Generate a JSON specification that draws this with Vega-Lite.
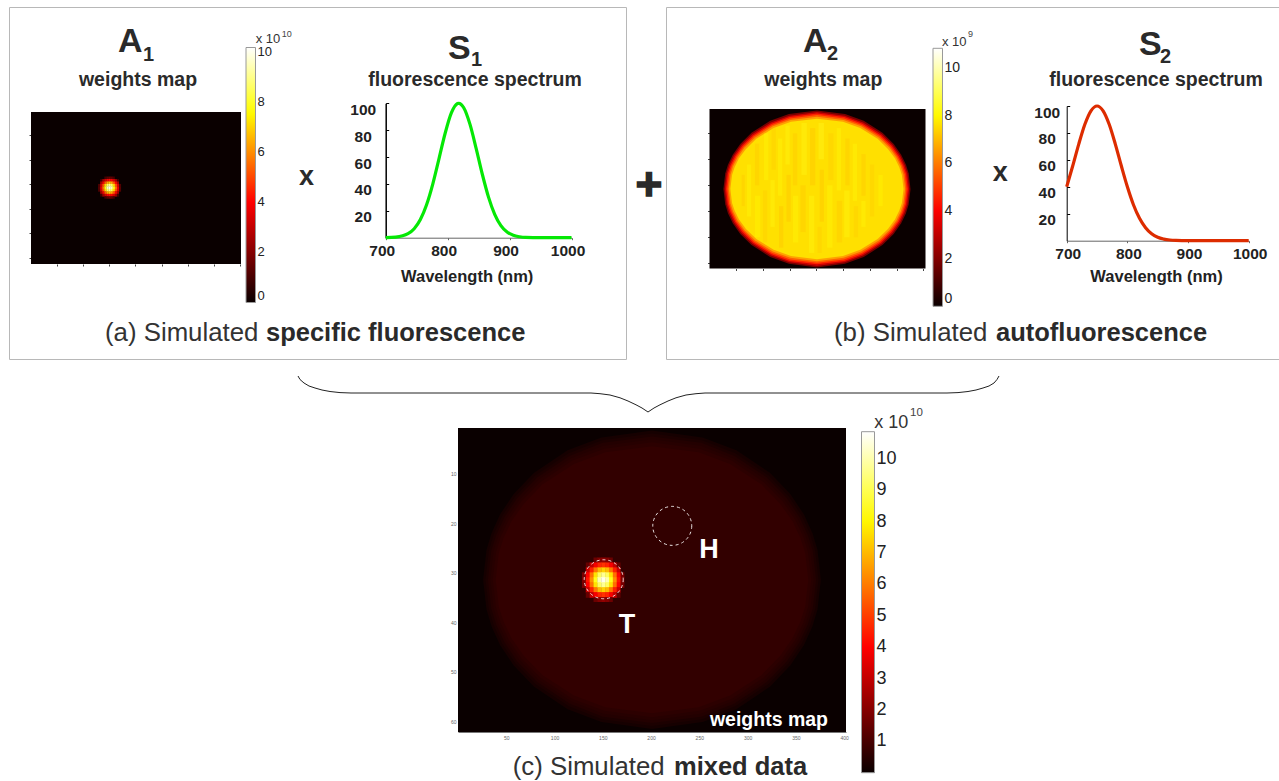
{"$schema":"https://vega.github.io/schema/vega-lite/v6.json","width":1279,"height":781,"padding":0,"autosize":{"type":"none"},"background":"white","config":{"font":"Liberation Sans","view":{"stroke":null},"axis":{"grid":false},"legend":{"padding":0}},
"datasets":{
"rings":[
{"x":26,"y":31.4,"y2":31.4,"b":1.8,"c":0.2},{"x":29.5,"y":25.4,"y2":37.4,"b":1.8,"c":0.2},{"x":34.7,"y":22,"y2":40.8,"b":1.8,"c":0.2},{"x":43.5,"y":18.2,"y2":44.6,"b":1.8,"c":0.2},{"x":57.5,"y":14.1,"y2":48.7,"b":1.8,"c":0.2},{"x":78.5,"y":9.8,"y2":53,"b":1.8,"c":0.2},{"x":113.5,"y":5.2,"y2":57.6,"b":1.8,"c":0.2},{"x":148.5,"y":2.6,"y2":60.2,"b":1.8,"c":0.2},{"x":201,"y":1.2,"y2":61.6,"b":1.8,"c":0.2},{"x":253.5,"y":2.6,"y2":60.2,"b":1.8,"c":0.2},{"x":288.5,"y":5.2,"y2":57.6,"b":1.8,"c":0.2},{"x":323.5,"y":9.8,"y2":53,"b":1.8,"c":0.2},{"x":344.5,"y":14.1,"y2":48.7,"b":1.8,"c":0.2},{"x":358.5,"y":18.2,"y2":44.6,"b":1.8,"c":0.2},{"x":367.3,"y":22,"y2":40.8,"b":1.8,"c":0.2},{"x":372.5,"y":25.4,"y2":37.4,"b":1.8,"c":0.2},{"x":376,"y":31.4,"y2":31.4,"b":1.8,"c":0.2},
{"x":28.5,"y":31.4,"y2":31.4,"b":3.2,"c":0.3},{"x":32,"y":25.5,"y2":37.3,"b":3.2,"c":0.3},{"x":37.1,"y":22.2,"y2":40.6,"b":3.2,"c":0.3},{"x":45.7,"y":18.5,"y2":44.3,"b":3.2,"c":0.3},{"x":59.5,"y":14.5,"y2":48.3,"b":3.2,"c":0.3},{"x":80.2,"y":10.3,"y2":52.5,"b":3.2,"c":0.3},{"x":114.7,"y":5.8,"y2":57,"b":3.2,"c":0.3},{"x":149.2,"y":3.2,"y2":59.6,"b":3.2,"c":0.3},{"x":201,"y":1.8,"y2":61,"b":3.2,"c":0.3},{"x":252.8,"y":3.2,"y2":59.6,"b":3.2,"c":0.3},{"x":287.3,"y":5.8,"y2":57,"b":3.2,"c":0.3},{"x":321.8,"y":10.3,"y2":52.5,"b":3.2,"c":0.3},{"x":342.5,"y":14.5,"y2":48.3,"b":3.2,"c":0.3},{"x":356.3,"y":18.5,"y2":44.3,"b":3.2,"c":0.3},{"x":364.9,"y":22.2,"y2":40.6,"b":3.2,"c":0.3},{"x":370,"y":25.5,"y2":37.3,"b":3.2,"c":0.3},{"x":373.5,"y":31.4,"y2":31.4,"b":3.2,"c":0.3},
{"x":31,"y":31.4,"y2":31.4,"b":4.6,"c":0.4},{"x":34.4,"y":25.6,"y2":37.2,"b":4.6,"c":0.4},{"x":39.5,"y":22.4,"y2":40.4,"b":4.6,"c":0.4},{"x":48,"y":18.8,"y2":44,"b":4.6,"c":0.4},{"x":61.6,"y":14.8,"y2":48,"b":4.6,"c":0.4},{"x":82,"y":10.7,"y2":52.1,"b":4.6,"c":0.4},{"x":116,"y":6.3,"y2":56.5,"b":4.6,"c":0.4},{"x":150,"y":3.7,"y2":59.1,"b":4.6,"c":0.4},{"x":201,"y":2.4,"y2":60.4,"b":4.6,"c":0.4},{"x":252,"y":3.7,"y2":59.1,"b":4.6,"c":0.4},{"x":286,"y":6.3,"y2":56.5,"b":4.6,"c":0.4},{"x":320,"y":10.7,"y2":52.1,"b":4.6,"c":0.4},{"x":340.4,"y":14.8,"y2":48,"b":4.6,"c":0.4},{"x":354,"y":18.8,"y2":44,"b":4.6,"c":0.4},{"x":362.5,"y":22.4,"y2":40.4,"b":4.6,"c":0.4},{"x":367.6,"y":25.6,"y2":37.2,"b":4.6,"c":0.4},{"x":371,"y":31.4,"y2":31.4,"b":4.6,"c":0.4},
{"x":33.5,"y":31.4,"y2":31.4,"b":5.6,"c":0.48},{"x":36.8,"y":25.7,"y2":37.1,"b":5.6,"c":0.48},{"x":41.9,"y":22.5,"y2":40.3,"b":5.6,"c":0.48},{"x":50.2,"y":19,"y2":43.8,"b":5.6,"c":0.48},{"x":63.6,"y":15.2,"y2":47.6,"b":5.6,"c":0.48},{"x":83.7,"y":11.1,"y2":51.7,"b":5.6,"c":0.48},{"x":117.2,"y":6.8,"y2":56,"b":5.6,"c":0.48},{"x":150.7,"y":4.3,"y2":58.5,"b":5.6,"c":0.48},{"x":201,"y":3,"y2":59.8,"b":5.6,"c":0.48},{"x":251.3,"y":4.3,"y2":58.5,"b":5.6,"c":0.48},{"x":284.8,"y":6.8,"y2":56,"b":5.6,"c":0.48},{"x":318.3,"y":11.1,"y2":51.7,"b":5.6,"c":0.48},{"x":338.4,"y":15.2,"y2":47.6,"b":5.6,"c":0.48},{"x":351.8,"y":19,"y2":43.8,"b":5.6,"c":0.48},{"x":360.1,"y":22.5,"y2":40.3,"b":5.6,"c":0.48},{"x":365.2,"y":25.7,"y2":37.1,"b":5.6,"c":0.48},{"x":368.5,"y":31.4,"y2":31.4,"b":5.6,"c":0.48},
{"x":36,"y":31.4,"y2":31.4,"b":6.6,"c":0.56},{"x":39.3,"y":25.9,"y2":36.9,"b":6.6,"c":0.56},{"x":44.2,"y":22.7,"y2":40.1,"b":6.6,"c":0.56},{"x":52.5,"y":19.3,"y2":43.5,"b":6.6,"c":0.56},{"x":65.7,"y":15.5,"y2":47.3,"b":6.6,"c":0.56},{"x":85.5,"y":11.6,"y2":51.2,"b":6.6,"c":0.56},{"x":118.5,"y":7.3,"y2":55.5,"b":6.6,"c":0.56},{"x":151.5,"y":4.9,"y2":57.9,"b":6.6,"c":0.56},{"x":201,"y":3.6,"y2":59.2,"b":6.6,"c":0.56},{"x":250.5,"y":4.9,"y2":57.9,"b":6.6,"c":0.56},{"x":283.5,"y":7.3,"y2":55.5,"b":6.6,"c":0.56},{"x":316.5,"y":11.6,"y2":51.2,"b":6.6,"c":0.56},{"x":336.3,"y":15.5,"y2":47.3,"b":6.6,"c":0.56},{"x":349.5,"y":19.3,"y2":43.5,"b":6.6,"c":0.56},{"x":357.8,"y":22.7,"y2":40.1,"b":6.6,"c":0.56},{"x":362.7,"y":25.9,"y2":36.9,"b":6.6,"c":0.56},{"x":366,"y":31.4,"y2":31.4,"b":6.6,"c":0.56},
{"x":39,"y":31.4,"y2":31.4,"b":7.6,"c":0.65},{"x":42.2,"y":26,"y2":36.8,"b":7.6,"c":0.65},{"x":47.1,"y":23,"y2":39.8,"b":7.6,"c":0.65},{"x":55.2,"y":19.6,"y2":43.2,"b":7.6,"c":0.65},{"x":68.2,"y":16,"y2":46.8,"b":7.6,"c":0.65},{"x":87.6,"y":12.1,"y2":50.7,"b":7.6,"c":0.65},{"x":120,"y":8,"y2":54.8,"b":7.6,"c":0.65},{"x":152.4,"y":5.6,"y2":57.2,"b":7.6,"c":0.65},{"x":201,"y":4.4,"y2":58.4,"b":7.6,"c":0.65},{"x":249.6,"y":5.6,"y2":57.2,"b":7.6,"c":0.65},{"x":282,"y":8,"y2":54.8,"b":7.6,"c":0.65},{"x":314.4,"y":12.1,"y2":50.7,"b":7.6,"c":0.65},{"x":333.8,"y":16,"y2":46.8,"b":7.6,"c":0.65},{"x":346.8,"y":19.6,"y2":43.2,"b":7.6,"c":0.65},{"x":354.9,"y":23,"y2":39.8,"b":7.6,"c":0.65},{"x":359.8,"y":26,"y2":36.8,"b":7.6,"c":0.65},{"x":363,"y":31.4,"y2":31.4,"b":7.6,"c":0.65}
],
"streaks":[
{"x":70,"x2":78,"y":22,"y2":42,"v":8.2},{"x":85,"x2":93,"y":14,"y2":30,"v":7.1},{"x":85,"x2":95,"y":34,"y2":50,"v":8.1},{"x":102,"x2":110,"y":10,"y2":28,"v":8.2},{"x":100,"x2":108,"y":32,"y2":52,"v":7.2},{"x":116,"x2":124,"y":8,"y2":24,"v":7.2},{"x":114,"x2":122,"y":28,"y2":46,"v":8.3},{"x":128,"x2":136,"y":12,"y2":34,"v":8.2},{"x":130,"x2":138,"y":38,"y2":54,"v":7},{"x":142,"x2":150,"y":7,"y2":22,"v":8.3},{"x":144,"x2":152,"y":26,"y2":44,"v":7},{"x":156,"x2":164,"y":10,"y2":30,"v":7.1},{"x":156,"x2":166,"y":34,"y2":52,"v":8.2},{"x":172,"x2":182,"y":6,"y2":26,"v":8.4},{"x":170,"x2":180,"y":30,"y2":48,"v":7.1},{"x":188,"x2":198,"y":8,"y2":30,"v":7},{"x":186,"x2":196,"y":34,"y2":56,"v":8.3},{"x":204,"x2":214,"y":6,"y2":20,"v":8.5},{"x":206,"x2":214,"y":24,"y2":44,"v":7},{"x":202,"x2":210,"y":46,"y2":56,"v":7.2},{"x":222,"x2":232,"y":10,"y2":28,"v":7.2},{"x":220,"x2":230,"y":30,"y2":54,"v":8.2},{"x":238,"x2":246,"y":8,"y2":32,"v":8.2},{"x":238,"x2":248,"y":36,"y2":52,"v":7.1},{"x":254,"x2":262,"y":12,"y2":30,"v":7.1},{"x":252,"x2":262,"y":32,"y2":50,"v":8.3},{"x":268,"x2":276,"y":14,"y2":36,"v":8.2},{"x":270,"x2":278,"y":38,"y2":50,"v":7.2},{"x":284,"x2":292,"y":18,"y2":34,"v":7.1},{"x":284,"x2":292,"y":36,"y2":46,"v":8.2},{"x":300,"x2":308,"y":22,"y2":42,"v":7.2},{"x":316,"x2":324,"y":26,"y2":38,"v":8.1},{"x":60,"x2":66,"y":26,"y2":38,"v":7.1}
],
"blob":[
{"x":140.4,"x2":144.8,"y":26.9,"y2":28.05,"a":0.95,"c":1.6},{"x":144.4,"x2":148.8,"y":26.9,"y2":28.05,"a":1.35,"c":2},{"x":148.4,"x2":152.8,"y":26.9,"y2":28.05,"a":1.55,"c":2.2},{"x":152.4,"x2":156.8,"y":26.9,"y2":28.05,"a":1.35,"c":2},{"x":156.4,"x2":160.4,"y":26.9,"y2":28.05,"a":0.95,"c":1.6},
{"x":132.4,"x2":136.8,"y":27.9,"y2":29.05,"a":0.85,"c":1.5},{"x":136.4,"x2":140.8,"y":27.9,"y2":29.05,"a":2.35,"c":3},{"x":140.4,"x2":144.8,"y":27.9,"y2":29.05,"a":3.22,"c":3.87},{"x":144.4,"x2":148.8,"y":27.9,"y2":29.05,"a":3.89,"c":4.54},{"x":148.4,"x2":152.8,"y":27.9,"y2":29.05,"a":4.14,"c":4.79},{"x":152.4,"x2":156.8,"y":27.9,"y2":29.05,"a":3.89,"c":4.54},{"x":156.4,"x2":160.8,"y":27.9,"y2":29.05,"a":3.22,"c":3.87},{"x":160.4,"x2":164.8,"y":27.9,"y2":29.05,"a":2.35,"c":3},{"x":164.4,"x2":168.4,"y":27.9,"y2":29.05,"a":0.85,"c":1.5},
{"x":132.4,"x2":136.8,"y":28.9,"y2":30.05,"a":2.47,"c":3.12},{"x":136.4,"x2":140.8,"y":28.9,"y2":30.05,"a":3.84,"c":4.49},{"x":140.4,"x2":144.8,"y":28.9,"y2":30.05,"a":5.26,"c":5.91},{"x":144.4,"x2":148.8,"y":28.9,"y2":30.05,"a":6.35,"c":7},{"x":148.4,"x2":152.8,"y":28.9,"y2":30.05,"a":6.76,"c":7.41},{"x":152.4,"x2":156.8,"y":28.9,"y2":30.05,"a":6.35,"c":7},{"x":156.4,"x2":160.8,"y":28.9,"y2":30.05,"a":5.26,"c":5.91},{"x":160.4,"x2":164.8,"y":28.9,"y2":30.05,"a":3.84,"c":4.49},{"x":164.4,"x2":168.4,"y":28.9,"y2":30.05,"a":2.47,"c":3.12},
{"x":128.4,"x2":132.8,"y":29.9,"y2":31.05,"a":1.15,"c":1.8},{"x":132.4,"x2":136.8,"y":29.9,"y2":31.05,"a":3.32,"c":3.97},{"x":136.4,"x2":140.8,"y":29.9,"y2":31.05,"a":5.15,"c":5.8},{"x":140.4,"x2":144.8,"y":29.9,"y2":31.05,"a":7.06,"c":7.71},{"x":144.4,"x2":148.8,"y":29.9,"y2":31.05,"a":8.52,"c":9.17},{"x":148.4,"x2":152.8,"y":29.9,"y2":31.05,"a":9.07,"c":9.72},{"x":152.4,"x2":156.8,"y":29.9,"y2":31.05,"a":8.52,"c":9.17},{"x":156.4,"x2":160.8,"y":29.9,"y2":31.05,"a":7.06,"c":7.71},{"x":160.4,"x2":164.8,"y":29.9,"y2":31.05,"a":5.15,"c":5.8},{"x":164.4,"x2":168.8,"y":29.9,"y2":31.05,"a":3.32,"c":3.97},{"x":168.4,"x2":172.4,"y":29.9,"y2":31.05,"a":1.15,"c":1.8},
{"x":128.4,"x2":132.8,"y":30.9,"y2":32.05,"a":1.25,"c":1.9},{"x":132.4,"x2":136.8,"y":30.9,"y2":32.05,"a":3.66,"c":4.31},{"x":136.4,"x2":140.8,"y":30.9,"y2":32.05,"a":5.68,"c":6.33},{"x":140.4,"x2":144.8,"y":30.9,"y2":32.05,"a":7.78,"c":8.43},{"x":144.4,"x2":148.8,"y":30.9,"y2":32.05,"a":9.39,"c":10.04},{"x":148.4,"x2":152.8,"y":30.9,"y2":32.05,"a":10,"c":10.65},{"x":152.4,"x2":156.8,"y":30.9,"y2":32.05,"a":9.39,"c":10.04},{"x":156.4,"x2":160.8,"y":30.9,"y2":32.05,"a":7.78,"c":8.43},{"x":160.4,"x2":164.8,"y":30.9,"y2":32.05,"a":5.68,"c":6.33},{"x":164.4,"x2":168.8,"y":30.9,"y2":32.05,"a":3.66,"c":4.31},{"x":168.4,"x2":172.4,"y":30.9,"y2":32.05,"a":1.25,"c":1.9},
{"x":128.4,"x2":132.8,"y":31.9,"y2":33.05,"a":1.15,"c":1.8},{"x":132.4,"x2":136.8,"y":31.9,"y2":33.05,"a":3.32,"c":3.97},{"x":136.4,"x2":140.8,"y":31.9,"y2":33.05,"a":5.15,"c":5.8},{"x":140.4,"x2":144.8,"y":31.9,"y2":33.05,"a":7.06,"c":7.71},{"x":144.4,"x2":148.8,"y":31.9,"y2":33.05,"a":8.52,"c":9.17},{"x":148.4,"x2":152.8,"y":31.9,"y2":33.05,"a":9.07,"c":9.72},{"x":152.4,"x2":156.8,"y":31.9,"y2":33.05,"a":8.52,"c":9.17},{"x":156.4,"x2":160.8,"y":31.9,"y2":33.05,"a":7.06,"c":7.71},{"x":160.4,"x2":164.8,"y":31.9,"y2":33.05,"a":5.15,"c":5.8},{"x":164.4,"x2":168.8,"y":31.9,"y2":33.05,"a":3.32,"c":3.97},{"x":168.4,"x2":172.4,"y":31.9,"y2":33.05,"a":1.15,"c":1.8},
{"x":132.4,"x2":136.8,"y":32.9,"y2":34.05,"a":2.47,"c":3.12},{"x":136.4,"x2":140.8,"y":32.9,"y2":34.05,"a":3.84,"c":4.49},{"x":140.4,"x2":144.8,"y":32.9,"y2":34.05,"a":5.26,"c":5.91},{"x":144.4,"x2":148.8,"y":32.9,"y2":34.05,"a":6.35,"c":7},{"x":148.4,"x2":152.8,"y":32.9,"y2":34.05,"a":6.76,"c":7.41},{"x":152.4,"x2":156.8,"y":32.9,"y2":34.05,"a":6.35,"c":7},{"x":156.4,"x2":160.8,"y":32.9,"y2":34.05,"a":5.26,"c":5.91},{"x":160.4,"x2":164.8,"y":32.9,"y2":34.05,"a":3.84,"c":4.49},{"x":164.4,"x2":168.4,"y":32.9,"y2":34.05,"a":2.47,"c":3.12},
{"x":132.4,"x2":136.8,"y":33.9,"y2":35.05,"a":0.85,"c":1.5},{"x":136.4,"x2":140.8,"y":33.9,"y2":35.05,"a":2.35,"c":3},{"x":140.4,"x2":144.8,"y":33.9,"y2":35.05,"a":3.22,"c":3.87},{"x":144.4,"x2":148.8,"y":33.9,"y2":35.05,"a":3.89,"c":4.54},{"x":148.4,"x2":152.8,"y":33.9,"y2":35.05,"a":4.14,"c":4.79},{"x":152.4,"x2":156.8,"y":33.9,"y2":35.05,"a":3.89,"c":4.54},{"x":156.4,"x2":160.8,"y":33.9,"y2":35.05,"a":3.22,"c":3.87},{"x":160.4,"x2":164.8,"y":33.9,"y2":35.05,"a":2.35,"c":3},{"x":164.4,"x2":168.4,"y":33.9,"y2":35.05,"a":0.85,"c":1.5},
{"x":140.4,"x2":144.8,"y":34.9,"y2":35.9,"a":0.95,"c":1.6},{"x":144.4,"x2":148.8,"y":34.9,"y2":35.9,"a":1.35,"c":2},{"x":148.4,"x2":152.8,"y":34.9,"y2":35.9,"a":1.55,"c":2.2},{"x":152.4,"x2":156.8,"y":34.9,"y2":35.9,"a":1.35,"c":2},{"x":156.4,"x2":160.4,"y":34.9,"y2":35.9,"a":0.95,"c":1.6}
]
},
"layer":[
{"data":{"values":[{"x":9.5,"x2":626.5,"y":7.5,"y2":359.5},{"x":666.5,"x2":1285,"y":7.5,"y2":359.5}]},"mark":{"type":"rect","fillOpacity":0,"stroke":"#b8b8b8","strokeWidth":1},"encoding":{"x":{"field":"x","type":"quantitative","axis":null,"scale":{"domain":[0,1279],"range":[0,1279]}},"x2":{"field":"x2"},"y":{"field":"y","type":"quantitative","axis":null,"scale":{"domain":[0,781],"range":[0,781]}},"y2":{"field":"y2"}}},

{"data":{"values":[{"x":0,"x2":402,"y":0.7,"y2":62.4,"v":0}]},"mark":"rect","encoding":{"x":{"field":"x","type":"quantitative","scale":{"domain":[0,402],"range":[31,241]},"axis":{"orient":"bottom","offset":-517,"values":[50,100,150,200,250,300,350,400],"labels":false,"domain":false,"tickSize":2,"tickColor":"#444","title":null}},"x2":{"field":"x2"},"y":{"field":"y","type":"quantitative","scale":{"domain":[0.7,62.4],"range":[112,264]},"axis":{"orient":"left","offset":-31,"values":[10,20,30,40,50,60],"labels":false,"domain":false,"tickSize":2,"tickColor":"#444","title":null}},"y2":{"field":"y2"},"color":{"field":"v","type":"quantitative","scale":{"domain":[0,4,7.6,10.16],"range":["#0a0000","#ff0000","#ffff00","#ffffff"],"interpolate":"rgb"},"legend":{"orient":"none","legendX":246,"legendY":47.5,"direction":"vertical","title":null,"gradientLength":255,"gradientThickness":9.5,"gradientStrokeColor":"#999","gradientStrokeWidth":1,"values":[0,2,4,6,8,10],"labelFontSize":13,"labelOffset":2,"labelColor":"#222","labelOverlap":false}}}},
{"data":{"name":"blob"},"mark":"rect","encoding":{"x":{"field":"x","type":"quantitative","axis":null,"scale":{"domain":[0,402],"range":[31,241]}},"x2":{"field":"x2"},"y":{"field":"y","type":"quantitative","axis":null,"scale":{"domain":[0.7,62.4],"range":[112,264]}},"y2":{"field":"y2"},"color":{"field":"a","type":"quantitative","legend":null,"scale":{"domain":[0,4,7.6,10.16],"range":["#0a0000","#ff0000","#ffff00","#ffffff"],"interpolate":"rgb"}}}},
{"data":{"values":[{"k":0}]},"mark":{"type":"point","opacity":0},"encoding":{"y":{"field":"k","type":"quantitative","scale":{"domain":[0,10.16],"range":[302.5,47.5]},"axis":{"orient":"right","offset":-1023.5,"values":[2,4,6,8,10],"labels":false,"domain":false,"tickSize":-2,"tickColor":"#555","title":null}}}},

{"data":{"values":[{"w":700,"i":0},{"w":716,"i":0.45},{"w":736,"i":3},{"w":746,"i":6.7},{"w":756,"i":13.5},{"w":766,"i":24.5},{"w":776,"i":39.9},{"w":786,"i":58.7},{"w":796,"i":77.7},{"w":806,"i":92.8},{"w":816,"i":99.8},{"w":818,"i":100},{"w":826,"i":96.7},{"w":836,"i":84.5},{"w":846,"i":66.5},{"w":856,"i":47.2},{"w":866,"i":30.2},{"w":876,"i":17.4},{"w":886,"i":9},{"w":896,"i":4.2},{"w":906,"i":1.8},{"w":916,"i":0.7},{"w":926,"i":0.2},{"w":950,"i":0},{"w":1000,"i":0}]},"mark":{"type":"line","color":"#05e805","strokeWidth":3.2,"interpolate":"monotone"},"encoding":{"x":{"field":"w","type":"quantitative","scale":{"domain":[700,1000],"range":[385.7,571.5],"zero":false,"nice":false},"axis":{"orient":"bottom","offset":-543.3,"values":[700,800,900,1000],"format":"d","labelFlush":false,"domainColor":"#666","tickColor":"#666","tickSize":2,"labelFontSize":15.5,"labelFontWeight":"bold","labelColor":"#222","labelOffset":-4,"labelPadding":4,"title":"Wavelength (nm)","titleFontSize":16.5,"titleFontWeight":"bold","titleColor":"#222","titleX":466.7,"titleY":44,"titleBaseline":"alphabetic"}},"y":{"field":"i","type":"quantitative","scale":{"domain":[0,100],"range":[237.7,103.3]},"axis":{"orient":"left","offset":-385.7,"values":[20,40,60,80,100],"domainColor":"#000","domainWidth":1.5,"tickColor":"#000","tickSize":-3,"labelFontSize":15.5,"labelFontWeight":"bold","labelColor":"#222","labelAlign":"center","labelOffset":6,"labelPadding":26,"title":null}}}},

{"data":{"values":[{"x":0,"x2":404,"y":0.65,"y2":62,"v":0}]},"mark":"rect","encoding":{"x":{"field":"x","type":"quantitative","scale":{"domain":[0,404],"range":[709.5,925.5]},"axis":{"orient":"bottom","offset":-512.5,"values":[50,100,150,200,250,300,350,400],"labels":false,"domain":false,"tickSize":2,"tickColor":"#444","title":null}},"x2":{"field":"x2"},"y":{"field":"y","type":"quantitative","scale":{"domain":[0.65,62],"range":[109,268.5]},"axis":{"orient":"left","offset":-709.5,"values":[10,20,30,40,50,60],"labels":false,"domain":false,"tickSize":2,"tickColor":"#444","title":null}},"y2":{"field":"y2"},"color":{"field":"v","type":"quantitative","scale":{"domain":[0,4.05,8.1,10.82],"range":["#0a0000","#ff0000","#ffff00","#ffffff"],"interpolate":"rgb"},"legend":{"orient":"none","legendX":933,"legendY":48.3,"direction":"vertical","title":null,"gradientLength":258,"gradientThickness":9.5,"gradientStrokeColor":"#999","gradientStrokeWidth":1,"values":[0,2,4,6,8,10],"labelFontSize":14,"labelOffset":2,"labelColor":"#222","labelOverlap":false}}}},
{"data":{"name":"rings"},"mark":{"type":"area","interpolate":"linear"},"encoding":{"x":{"field":"x","type":"quantitative","axis":null,"scale":{"domain":[0,404],"range":[709.5,925.5]}},"y":{"field":"y","type":"quantitative","stack":null,"axis":null,"scale":{"domain":[0.65,62],"range":[109,268.5]}},"y2":{"field":"y2"},"color":{"field":"b","type":"quantitative","legend":null,"scale":{"domain":[0,4.05,8.1,10.82],"range":["#0a0000","#ff0000","#ffff00","#ffffff"],"interpolate":"rgb"}}}},
{"data":{"name":"streaks"},"mark":{"type":"rect","opacity":0.3},"encoding":{"x":{"field":"x","type":"quantitative","axis":null,"scale":{"domain":[0,404],"range":[709.5,925.5]}},"x2":{"field":"x2"},"y":{"field":"y","type":"quantitative","axis":null,"scale":{"domain":[0.65,62],"range":[109,268.5]}},"y2":{"field":"y2"},"color":{"field":"v","type":"quantitative","legend":null,"scale":{"domain":[0,4.05,8.1,10.82],"range":["#0a0000","#ff0000","#ffff00","#ffffff"],"interpolate":"rgb"}}}},
{"data":{"values":[{"k":0}]},"mark":{"type":"point","opacity":0},"encoding":{"y":{"field":"k","type":"quantitative","scale":{"domain":[0,10.82],"range":[306.3,48.3]},"axis":{"orient":"right","offset":-336.5,"values":[2,4,6,8,10],"labels":false,"domain":false,"tickSize":-2,"tickColor":"#555","title":null}}}},

{"data":{"values":[{"w":700,"i":40},{"w":710,"i":55.6},{"w":720,"i":71.9},{"w":730,"i":86.4},{"w":740,"i":96.4},{"w":750,"i":100},{"w":760,"i":96.4},{"w":770,"i":86.4},{"w":780,"i":71.9},{"w":790,"i":55.6},{"w":800,"i":40},{"w":810,"i":26.7},{"w":820,"i":16.6},{"w":830,"i":9.6},{"w":840,"i":5.1},{"w":850,"i":2.5},{"w":860,"i":1.2},{"w":870,"i":0.5},{"w":880,"i":0.2},{"w":900,"i":0},{"w":1000,"i":0}]},"mark":{"type":"line","color":"#dd2c00","strokeWidth":3.2,"interpolate":"monotone"},"encoding":{"x":{"field":"w","type":"quantitative","scale":{"domain":[700,1000],"range":[1066.7,1248.7],"zero":false,"nice":false},"axis":{"orient":"bottom","offset":-540.3,"values":[700,800,900,1000],"format":"d","labelFlush":false,"domainColor":"#666","tickColor":"#666","tickSize":2,"labelFontSize":15.5,"labelFontWeight":"bold","labelColor":"#222","labelOffset":1,"labelPadding":4,"title":"Wavelength (nm)","titleFontSize":16.5,"titleFontWeight":"bold","titleColor":"#222","titleX":1156,"titleY":41,"titleBaseline":"alphabetic"}},"y":{"field":"i","type":"quantitative","scale":{"domain":[0,100],"range":[240.7,106]},"axis":{"orient":"left","offset":-1066.7,"values":[20,40,60,80,100],"domainColor":"#000","tickColor":"#000","tickSize":-3,"labelFontSize":15.5,"labelFontWeight":"bold","labelColor":"#222","labelAlign":"center","labelOffset":6,"labelPadding":23,"title":null}}}},

{"data":{"values":[{"x":0,"x2":402,"y":0.7,"y2":62.2,"v":0}]},"mark":"rect","encoding":{"x":{"field":"x","type":"quantitative","scale":{"domain":[0,402],"range":[458,846]},"axis":{"orient":"bottom","offset":-49,"values":[50,100,150,200,250,300,350,400],"labelFlush":false,"domainColor":"#777","tickSize":0,"labelFontSize":5,"labelColor":"#666","labelPadding":3,"title":null}},"x2":{"field":"x2"},"y":{"field":"y","type":"quantitative","scale":{"domain":[0.7,62.2],"range":[428,732]},"axis":{"orient":"left","offset":-458,"values":[10,20,30,40,50,60],"domain":false,"tickSize":0,"labelFontSize":5,"labelColor":"#666","labelPadding":2,"title":null}},"y2":{"field":"y2"},"color":{"field":"v","type":"quantitative","scale":{"domain":[0,4,8.15,10.87],"range":["#0a0000","#ff0000","#ffff00","#ffffff"],"interpolate":"rgb"},"legend":{"orient":"none","legendX":861.5,"legendY":431.7,"direction":"vertical","title":null,"gradientLength":341,"gradientThickness":13,"gradientStrokeColor":"#999","gradientStrokeWidth":1,"values":[1,2,3,4,5,6,7,8,9,10],"labelFontSize":18,"labelOffset":2,"labelColor":"#222","labelOverlap":false}}}},
{"data":{"name":"rings"},"mark":{"type":"area","interpolate":"linear"},"encoding":{"x":{"field":"x","type":"quantitative","axis":null,"scale":{"domain":[0,402],"range":[458,846]}},"y":{"field":"y","type":"quantitative","stack":null,"axis":null,"scale":{"domain":[0.7,62.2],"range":[428,732]}},"y2":{"field":"y2"},"color":{"field":"c","type":"quantitative","legend":null,"scale":{"domain":[0,4,8.15,10.87],"range":["#0a0000","#ff0000","#ffff00","#ffffff"],"interpolate":"rgb"}}}},
{"data":{"name":"blob"},"mark":"rect","encoding":{"x":{"field":"x","type":"quantitative","axis":null,"scale":{"domain":[0,402],"range":[458,846]}},"x2":{"field":"x2"},"y":{"field":"y","type":"quantitative","axis":null,"scale":{"domain":[0.7,62.2],"range":[428,732]}},"y2":{"field":"y2"},"color":{"field":"c","type":"quantitative","legend":null,"scale":{"domain":[0,4,8.15,10.87],"range":["#0a0000","#ff0000","#ffff00","#ffffff"],"interpolate":"rgb"}}}},
{"data":{"values":[{"x":151,"y":31.3},{"x":222,"y":20.5}]},"mark":{"type":"point","shape":"circle","size":1520,"filled":false,"stroke":"#ffffff","strokeDash":[3,3],"strokeWidth":1,"opacity":0.9},"encoding":{"x":{"field":"x","type":"quantitative","axis":null,"scale":{"domain":[0,402],"range":[458,846]}},"y":{"field":"y","type":"quantitative","axis":null,"scale":{"domain":[0.7,62.2],"range":[428,732]}}}},
{"data":{"values":[{"x":175,"y":42.1,"t":"T"},{"x":260,"y":27,"t":"H"}]},"mark":{"type":"text","fontSize":27,"fontWeight":"bold","color":"#ffffff","align":"center","baseline":"alphabetic"},"encoding":{"x":{"field":"x","type":"quantitative","axis":null,"scale":{"domain":[0,402],"range":[458,846]}},"y":{"field":"y","type":"quantitative","axis":null,"scale":{"domain":[0.7,62.2],"range":[428,732]}},"text":{"field":"t"}}},
{"data":{"values":[{"x":261,"y":61.05,"t":"weights map"}]},"mark":{"type":"text","fontSize":19.5,"fontWeight":"bold","color":"#ffffff","align":"left","baseline":"alphabetic"},"encoding":{"x":{"field":"x","type":"quantitative","axis":null,"scale":{"domain":[0,402],"range":[458,846]}},"y":{"field":"y","type":"quantitative","axis":null,"scale":{"domain":[0.7,62.2],"range":[428,732]}},"text":{"field":"t"}}},
{"data":{"values":[{"k":0}]},"mark":{"type":"point","opacity":0},"encoding":{"y":{"field":"k","type":"quantitative","scale":{"domain":[0,10.87],"range":[772.7,431.7]},"axis":{"orient":"right","offset":-404.5,"values":[1,2,3,4,5,6,7,8,9,10],"labels":false,"domain":false,"tickSize":-2,"tickColor":"#555","title":null}}}},

{"data":{"values":[{"x":298,"y":376},{"x":300,"y":379.5},{"x":304,"y":383},{"x":309,"y":386},{"x":315,"y":388},{"x":322,"y":390},{"x":330,"y":391.5},{"x":340,"y":392.6},{"x":351,"y":393},{"x":591,"y":393},{"x":600,"y":393.7},{"x":610,"y":395},{"x":620,"y":397.8},{"x":628,"y":401},{"x":636,"y":404.8},{"x":642,"y":408},{"x":648,"y":412},{"x":654,"y":408},{"x":660,"y":404.8},{"x":668,"y":401},{"x":676,"y":397.8},{"x":686,"y":395},{"x":696,"y":393.7},{"x":705,"y":393},{"x":947,"y":393},{"x":958,"y":392.6},{"x":968,"y":391.5},{"x":976,"y":390},{"x":983,"y":388},{"x":989,"y":386},{"x":994,"y":383},{"x":997,"y":379.5},{"x":999,"y":376}]},"mark":{"type":"line","color":"#222","strokeWidth":1},"encoding":{"x":{"field":"x","type":"quantitative","axis":null,"scale":{"domain":[0,1279],"range":[0,1279]}},"y":{"field":"y","type":"quantitative","axis":null,"scale":{"domain":[0,781],"range":[0,781]}}}},

{"data":{"values":[{"x":118,"y":52,"t":"A"},{"x":448,"y":59,"t":"S"},{"x":803,"y":52,"t":"A"},{"x":1139,"y":55,"t":"S"}]},"mark":{"type":"text","fontSize":34,"fontWeight":"bold","color":"#2a2a2a","align":"left","baseline":"alphabetic"},"encoding":{"x":{"field":"x","type":"quantitative","axis":null,"scale":{"domain":[0,1279],"range":[0,1279]}},"y":{"field":"y","type":"quantitative","axis":null,"scale":{"domain":[0,781],"range":[0,781]}},"text":{"field":"t"}}},
{"data":{"values":[{"x":143,"y":61,"t":"1"},{"x":471,"y":65.5,"t":"1"},{"x":827,"y":60,"t":"2"},{"x":1160,"y":62.7,"t":"2"}]},"mark":{"type":"text","fontSize":20,"fontWeight":"bold","color":"#2a2a2a","align":"left","baseline":"alphabetic"},"encoding":{"x":{"field":"x","type":"quantitative","axis":null,"scale":{"domain":[0,1279],"range":[0,1279]}},"y":{"field":"y","type":"quantitative","axis":null,"scale":{"domain":[0,781],"range":[0,781]}},"text":{"field":"t"}}},
{"data":{"values":[{"x":138,"y":85.5,"t":"weights map"},{"x":475,"y":85.7,"t":"fluorescence spectrum"},{"x":823.3,"y":85.5,"t":"weights map"},{"x":1156,"y":85.7,"t":"fluorescence spectrum"}]},"mark":{"type":"text","fontSize":19.5,"fontWeight":"bold","color":"#2a2a2a","align":"center","baseline":"alphabetic"},"encoding":{"x":{"field":"x","type":"quantitative","axis":null,"scale":{"domain":[0,1279],"range":[0,1279]}},"y":{"field":"y","type":"quantitative","axis":null,"scale":{"domain":[0,781],"range":[0,781]}},"text":{"field":"t"}}},
{"data":{"values":[{"x":299,"y":185,"t":"x"},{"x":992.7,"y":181,"t":"x"}]},"mark":{"type":"text","fontSize":27,"fontWeight":"bold","color":"#2a2a2a","align":"left","baseline":"alphabetic"},"encoding":{"x":{"field":"x","type":"quantitative","axis":null,"scale":{"domain":[0,1279],"range":[0,1279]}},"y":{"field":"y","type":"quantitative","axis":null,"scale":{"domain":[0,781],"range":[0,781]}},"text":{"field":"t"}}},
{"data":{"values":[{"x":649,"y":200,"t":"+"}]},"mark":{"type":"text","fontSize":46,"fontWeight":"bold","color":"#2a2a2a","stroke":"#2a2a2a","strokeWidth":1.5,"align":"center","baseline":"alphabetic"},"encoding":{"x":{"field":"x","type":"quantitative","axis":null,"scale":{"domain":[0,1279],"range":[0,1279]}},"y":{"field":"y","type":"quantitative","axis":null,"scale":{"domain":[0,781],"range":[0,781]}},"text":{"field":"t"}}},
{"data":{"values":[{"x":105,"y":341,"t":"(a) Simulated"},{"x":834,"y":341,"t":"(b) Simulated"},{"x":512.7,"y":775,"t":"(c) Simulated"}]},"mark":{"type":"text","fontSize":25.8,"color":"#333","align":"left","baseline":"alphabetic"},"encoding":{"x":{"field":"x","type":"quantitative","axis":null,"scale":{"domain":[0,1279],"range":[0,1279]}},"y":{"field":"y","type":"quantitative","axis":null,"scale":{"domain":[0,781],"range":[0,781]}},"text":{"field":"t"}}},
{"data":{"values":[{"x":266,"y":341,"t":"specific fluorescence"},{"x":996,"y":341,"t":"autofluorescence"},{"x":674,"y":775,"t":"mixed data"}]},"mark":{"type":"text","fontSize":25.5,"fontWeight":"bold","color":"#2a2a2a","align":"left","baseline":"alphabetic"},"encoding":{"x":{"field":"x","type":"quantitative","axis":null,"scale":{"domain":[0,1279],"range":[0,1279]}},"y":{"field":"y","type":"quantitative","axis":null,"scale":{"domain":[0,781],"range":[0,781]}},"text":{"field":"t"}}},
{"data":{"values":[{"x":255.7,"y":43,"t":"x 10"},{"x":942,"y":45.7,"t":"x 10"}]},"mark":{"type":"text","fontSize":13,"color":"#333","align":"left","baseline":"alphabetic"},"encoding":{"x":{"field":"x","type":"quantitative","axis":null,"scale":{"domain":[0,1279],"range":[0,1279]}},"y":{"field":"y","type":"quantitative","axis":null,"scale":{"domain":[0,781],"range":[0,781]}},"text":{"field":"t"}}},
{"data":{"values":[{"x":281.7,"y":36.7,"t":"10"},{"x":968,"y":37,"t":"9"}]},"mark":{"type":"text","fontSize":9,"color":"#444","align":"left","baseline":"alphabetic"},"encoding":{"x":{"field":"x","type":"quantitative","axis":null,"scale":{"domain":[0,1279],"range":[0,1279]}},"y":{"field":"y","type":"quantitative","axis":null,"scale":{"domain":[0,781],"range":[0,781]}},"text":{"field":"t"}}},
{"data":{"values":[{"x":874.3,"y":428.3,"t":"x 10"}]},"mark":{"type":"text","fontSize":18,"color":"#333","align":"left","baseline":"alphabetic"},"encoding":{"x":{"field":"x","type":"quantitative","axis":null,"scale":{"domain":[0,1279],"range":[0,1279]}},"y":{"field":"y","type":"quantitative","axis":null,"scale":{"domain":[0,781],"range":[0,781]}},"text":{"field":"t"}}},
{"data":{"values":[{"x":910,"y":415.7,"t":"10"}]},"mark":{"type":"text","fontSize":11.5,"color":"#444","align":"left","baseline":"alphabetic"},"encoding":{"x":{"field":"x","type":"quantitative","axis":null,"scale":{"domain":[0,1279],"range":[0,1279]}},"y":{"field":"y","type":"quantitative","axis":null,"scale":{"domain":[0,781],"range":[0,781]}},"text":{"field":"t"}}}
],
"resolve":{"scale":{"x":"independent","y":"independent","color":"independent"},"axis":{"x":"independent","y":"independent"},"legend":{"color":"independent"}}}
